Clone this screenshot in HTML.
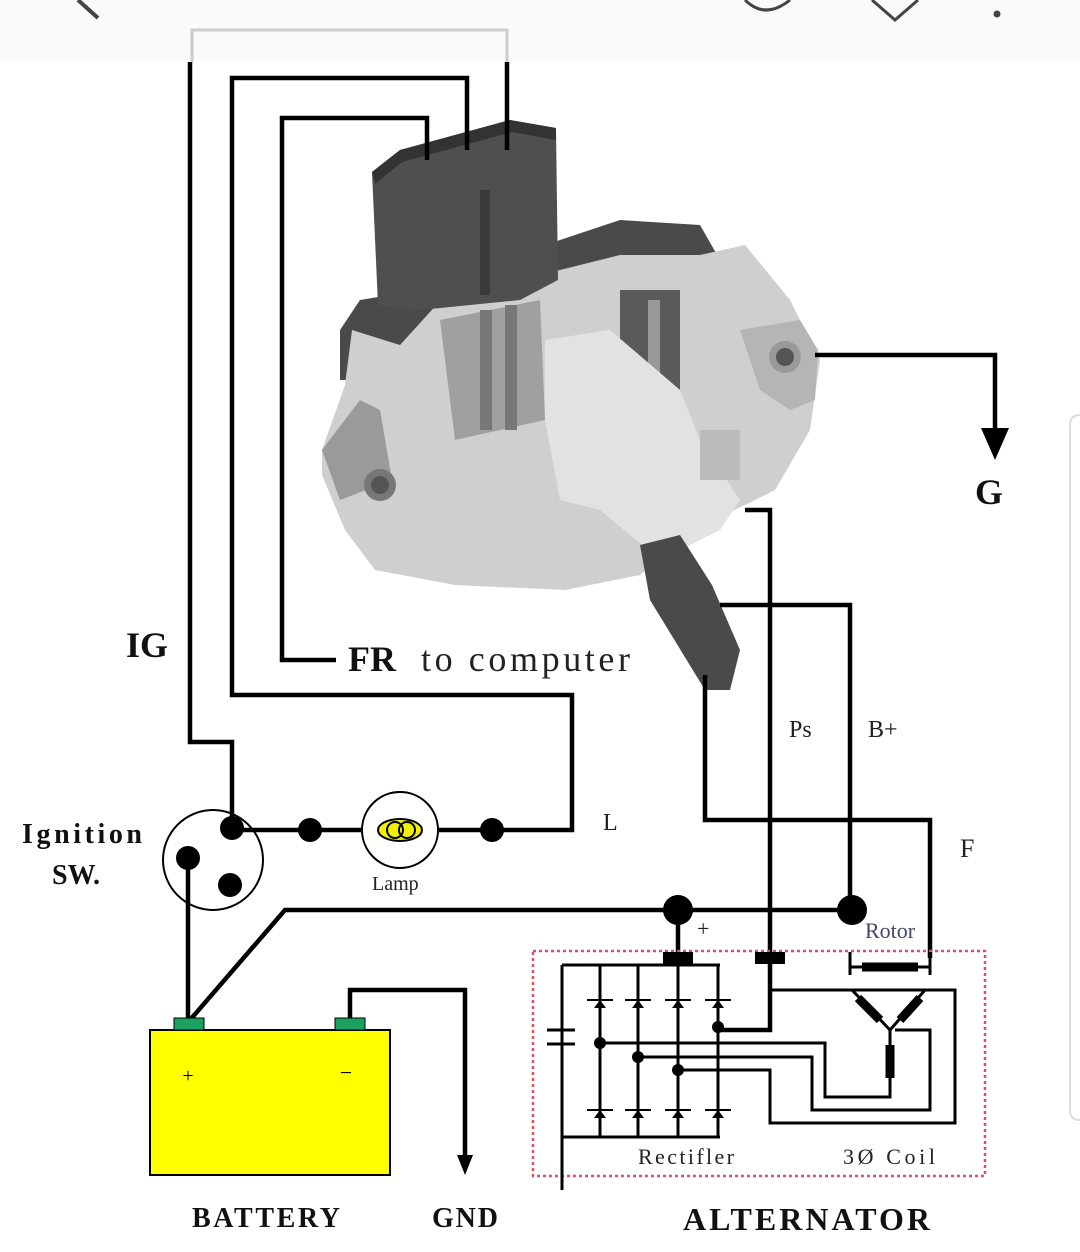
<!DOCTYPE html>
<html><head><meta charset="utf-8"><style>
html,body{margin:0;padding:0;background:#fff;}
svg{display:block}
text{font-family:"Liberation Serif",serif;}
</style></head><body>
<svg width="1080" height="1252" viewBox="0 0 1080 1252" xmlns="http://www.w3.org/2000/svg">
<rect width="1080" height="1252" fill="#fff"/>
<rect width="1080" height="60" fill="#fafafa"/>
<path d="M78 0 L98 18" stroke="#444" stroke-width="4" fill="none"/>
<path d="M745 0 Q765 20 790 0" stroke="#444" stroke-width="3" fill="none"/>
<path d="M872 0 L895 20 L918 0" stroke="#444" stroke-width="3" fill="none"/>
<circle cx="997" cy="14" r="3.5" fill="#444"/>
<path d="M1080 415 Q1070 415 1070 425 L1070 1110 Q1070 1120 1080 1120" stroke="#ddd" stroke-width="2" fill="none"/>
<path d="M192 62 L192 30 L507 30 L507 62" stroke="#ccc" stroke-width="3" fill="none"/>

<g>
<polygon points="340,330 360,300 420,290 560,240 620,220 700,225 720,260 720,330 600,380 340,380" fill="#4a4a4a"/>
<polygon points="322,450 345,385 352,330 400,345 450,290 560,270 620,255 700,255 745,245 790,300 820,360 810,430 775,490 745,505 700,525 640,575 565,590 455,585 375,570 345,530 322,475" fill="#cfcfcf"/>
<polygon points="322,450 360,400 380,410 392,480 340,500" fill="#9a9a9a"/>
<polygon points="740,330 800,320 818,350 815,400 790,410 760,390" fill="#b5b5b5"/>
<polygon points="440,320 540,300 545,420 455,440" fill="#a0a0a0"/>
<rect x="480" y="310" width="12" height="120" fill="#777"/>
<rect x="505" y="305" width="12" height="125" fill="#777"/>
<rect x="620" y="290" width="60" height="110" fill="#5a5a5a"/>
<rect x="648" y="300" width="12" height="100" fill="#999"/>
<polygon points="545,340 610,330 680,390 700,440 740,500 720,530 660,560 600,510 560,500 545,420" fill="#e2e2e2"/>
<polygon points="372,172 400,150 510,120 556,128 558,280 520,300 420,310 378,305" fill="#4f4f4f"/>
<polygon points="372,172 400,150 510,120 556,128 556,140 512,132 402,162 375,184" fill="#333"/>
<rect x="480" y="190" width="10" height="105" fill="#3a3a3a"/>
<circle cx="380" cy="485" r="16" fill="#777"/><circle cx="380" cy="485" r="9" fill="#555"/>
<circle cx="785" cy="357" r="16" fill="#999"/><circle cx="785" cy="357" r="9" fill="#555"/>
<polygon points="640,545 680,535 712,585 740,650 730,690 705,690 650,600" fill="#4a4a4a"/>
<rect x="700" y="430" width="40" height="50" fill="#bbb"/>
</g>

<g stroke="#000" stroke-width="4.5" fill="none">
<path d="M190 62 L190 742 L232 742 L232 828"/>
<path d="M467 150 L467 78 L232 78 L232 695 L572 695 L572 830 L492 830"/>
<path d="M427 160 L427 118 L282 118 L282 660 L336 660"/>
<path d="M507 62 L507 150"/>
<path d="M815 355 L995 355 L995 430"/>
<path d="M232 830 L492 830"/>
<path d="M188 1020 L188 858"/>
<path d="M190 1020 L285 910 L852 910"/>
<path d="M350 1020 L350 990 L465 990 L465 1160"/>
<path d="M745 510 L770 510 L770 1030 L718 1030"/>
<path d="M720 605 L850 605 L850 910"/>
<path d="M705 675 L705 820 L930 820 L930 958"/>
<path d="M678 910 L678 958"/>
</g>
<polygon points="981,428 1009,428 995,460" fill="#000"/>
<polygon points="457,1155 473,1155 465,1175" fill="#000"/>
<circle cx="213" cy="860" r="50" fill="none" stroke="#000" stroke-width="2"/>
<g fill="#000">
<circle cx="232" cy="828" r="12"/><circle cx="188" cy="858" r="12"/><circle cx="230" cy="885" r="12"/>
<circle cx="310" cy="830" r="12"/><circle cx="492" cy="830" r="12"/>
<circle cx="678" cy="910" r="15"/><circle cx="852" cy="910" r="15"/>
</g>
<circle cx="400" cy="830" r="38" fill="#fff" stroke="#000" stroke-width="2"/>
<ellipse cx="400" cy="830" rx="22" ry="11" fill="#f2f200" stroke="#000" stroke-width="2"/>
<circle cx="395" cy="830" r="8" fill="none" stroke="#000" stroke-width="2"/>
<circle cx="407" cy="830" r="8" fill="none" stroke="#000" stroke-width="2"/>

<rect x="150" y="1030" width="240" height="145" fill="#ffff00" stroke="#000" stroke-width="2"/>
<rect x="174" y="1018" width="30" height="12" fill="#1aa060" stroke="#000"/>
<rect x="335" y="1018" width="30" height="12" fill="#1aa060" stroke="#000"/>
<text x="188" y="1082" font-size="20" text-anchor="middle">+</text>
<text x="346" y="1080" font-size="22" text-anchor="middle">−</text>

<rect x="533" y="951" width="452" height="225" fill="none" stroke="#e05060" stroke-width="2.5" stroke-dasharray="3,3"/>
<g stroke="#000" stroke-width="3" fill="none">
<path d="M562 965 L720 965"/><path d="M562 1137 L720 1137"/>
<path d="M562 965 L562 1190"/>
<path d="M547 1030 L575 1030 M547 1044 L575 1044"/>
<path d="M600 965 L600 1137 M638 965 L638 1137 M678 965 L678 1137 M718 965 L718 1137"/>
<path d="M600 1043 L825 1043 L825 1097 L890 1097 L890 1080"/>
<path d="M638 1057 L812 1057 L812 1110 L930 1110 L930 1030 L895 1030"/>
<path d="M678 1070 L770 1070 L770 1123 L955 1123 L955 990 L772 990"/>
<path d="M850 952 L850 975 M930 952 L930 975 M850 967 L930 967"/>
<path d="M852 990 L890 1030 L925 990 M890 1030 L890 1080"/>
</g>
<g stroke="#000" stroke-width="9">
<path d="M862 967 L918 967"/>
<path d="M858 998 L880 1020 M920 998 L900 1020 M890 1045 L890 1078"/>
</g>
<g fill="#000">
<rect x="663" y="952" width="30" height="12"/><rect x="755" y="952" width="30" height="12"/>
<circle cx="600" cy="1043" r="6"/><circle cx="638" cy="1057" r="6"/><circle cx="678" cy="1070" r="6"/><circle cx="718" cy="1027" r="6"/>
</g>
<g stroke="#000" stroke-width="2" fill="none">
<path d="M587 1000 L613 1000 M625 1000 L651 1000 M665 1000 L691 1000 M705 1000 L731 1000"/>
<path d="M587 1110 L613 1110 M625 1110 L651 1110 M665 1110 L691 1110 M705 1110 L731 1110"/>
</g>
<g fill="#000">
<polygon points="594,1008 606,1008 600,1000"/><polygon points="632,1008 644,1008 638,1000"/><polygon points="672,1008 684,1008 678,1000"/><polygon points="712,1008 724,1008 718,1000"/>
<polygon points="594,1118 606,1118 600,1110"/><polygon points="632,1118 644,1118 638,1110"/><polygon points="672,1118 684,1118 678,1110"/><polygon points="712,1118 724,1118 718,1110"/>
</g>

<g font-weight="bold" fill="#111">
<text x="126" y="657" font-size="36">IG</text>
<text x="348" y="671" font-size="36">FR</text>
<text x="975" y="504" font-size="36">G</text>
<text x="22" y="843" font-size="28" textLength="120">Ignition</text>
<text x="52" y="884" font-size="28">SW.</text>
<text x="192" y="1227" font-size="28" textLength="148">BATTERY</text>
<text x="432" y="1227" font-size="28" textLength="66">GND</text>
<text x="683" y="1230" font-size="32" textLength="247">ALTERNATOR</text>
</g>
<g fill="#222">
<text x="421" y="671" font-size="36" textLength="209">to computer</text>
<text x="603" y="830" font-size="24">L</text>
<text x="789" y="737" font-size="24">Ps</text>
<text x="868" y="737" font-size="24">B+</text>
<text x="960" y="857" font-size="26">F</text>
<text x="372" y="890" font-size="20">Lamp</text>
<text x="697" y="936" font-size="22">+</text>
<text x="865" y="938" font-size="22" fill="#446">Rotor</text>
<text x="638" y="1164" font-size="22" textLength="96">Rectifler</text>
<text x="843" y="1164" font-size="22" textLength="92">3Ø Coil</text>
</g>
</svg>
</body></html>
